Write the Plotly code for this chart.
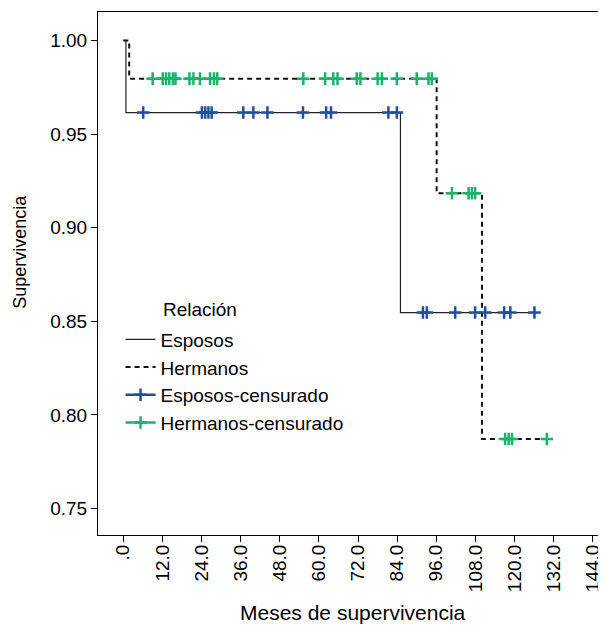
import plotly.graph_objects as go

# Kaplan-Meier step curves (months, survival)
esposos_t = [0, 0.8, 85.0, 126.1]
esposos_s = [1.0, 0.9615, 0.8547, 0.8547]
hermanos_t = [0, 1.8, 96.1, 110.0, 129.9]
hermanos_s = [1.0, 0.9796, 0.9184, 0.7872, 0.7872]

# censored observations
esposos_cens_t = [6.1, 24.1, 25.1, 26.1, 27.1, 36.8, 39.9, 44.2, 55.1, 62.2, 63.7, 81.3, 83.9,
                  91.9, 93.1, 101.8, 107.9, 111.0, 116.8, 118.7, 126.1]
esposos_cens_s = [0.9615] * 13 + [0.8547] * 8
hermanos_cens_t = [9.0, 12.1, 13.1, 14.1, 15.2, 16.0, 20.3, 21.5, 23.5, 26.6, 27.8, 28.8, 55.2,
                   61.9, 64.4, 65.7, 71.6, 72.7, 78.0, 79.3, 83.9, 90.0, 93.6, 94.6,
                   100.8, 105.9, 106.9, 107.9,
                   117.1, 118.2, 119.2, 129.9]
hermanos_cens_s = [0.9796] * 24 + [0.9184] * 4 + [0.7872] * 4

x_ticks = [0, 12, 24, 36, 48, 60, 72, 84, 96, 108, 120, 132, 144]
x_ticktext = [".0", "12.0", "24.0", "36.0", "48.0", "60.0", "72.0", "84.0", "96.0",
              "108.0", "120.0", "132.0", "144.0"]
y_ticks = [0.75, 0.80, 0.85, 0.90, 0.95, 1.00]
y_ticktext = ["0.75", "0.80", "0.85", "0.90", "0.95", "1.00"]

BLUE = "#1f4f9f"
GREEN = "#19b36b"
FONT = "Liberation Sans, Arial, sans-serif"


def isolated(xs, ys):
    ox, oy = [], []
    for a, b in zip(xs, ys):
        ox += [a, None]
        oy += [b, None]
    return ox, oy


fig = go.Figure()
fig.add_trace(go.Scatter(x=esposos_t, y=esposos_s, mode="lines", line_shape="hv",
                         line=dict(color="#222222", width=1.2), name="Esposos"))
fig.add_trace(go.Scatter(x=hermanos_t, y=hermanos_s, mode="lines", line_shape="hv",
                         line=dict(color="#111111", width=2, dash="5px,4px"), name="Hermanos"))
ex, ey = isolated(esposos_cens_t, esposos_cens_s)
fig.add_trace(go.Scatter(x=ex, y=ey, mode="lines+markers", connectgaps=False,
                         line=dict(color=BLUE, width=2.5),
                         marker=dict(symbol="cross-thin", size=9, line=dict(color=BLUE, width=2.5)),
                         name="Esposos-censurado"))
hx, hy = isolated(hermanos_cens_t, hermanos_cens_s)
fig.add_trace(go.Scatter(x=hx, y=hy, mode="lines+markers", connectgaps=False,
                         line=dict(color=GREEN, width=2.5),
                         marker=dict(symbol="cross-thin", size=9, line=dict(color=GREEN, width=2.5)),
                         name="Hermanos-censurado"))

# page body has an 8px margin, so the figure is 8px smaller and margins shifted
fig.update_layout(
    width=598, height=617,
    margin=dict(l=90, r=7, t=4, b=90, autoexpand=False),
    paper_bgcolor="white", plot_bgcolor="white",
    font=dict(family=FONT, size=19, color="black"),
    showlegend=True,
    legend=dict(x=0.045, y=0.41, xanchor="left", yanchor="top",
                bgcolor="rgba(0,0,0,0)", font=dict(size=19), tracegroupgap=0),
    xaxis=dict(range=[-7.77, 145.9], tickvals=x_ticks, ticktext=x_ticktext, tickangle=-90,
               showgrid=False, zeroline=False, showline=True, linecolor="black", linewidth=1,
               mirror=True, ticks="outside", ticklen=6, tickcolor="black", automargin=False,
               ticklabelstandoff=-5, tickfont=dict(size=19)),
    yaxis=dict(range=[0.7359, 1.0152], tickvals=y_ticks, ticktext=y_ticktext,
               showgrid=False, zeroline=False, showline=True, linecolor="black", linewidth=1,
               mirror=True, ticks="outside", ticklen=6, tickcolor="black", automargin=False,
               tickfont=dict(size=19)),
    annotations=[
        dict(text="Relación", xref="paper", yref="paper", x=0.126, y=0.431,
             xanchor="left", yanchor="middle", showarrow=False, font=dict(size=19)),
        dict(text="Meses de supervivencia", xref="paper", yref="paper", x=0.508, y=-0.148,
             xanchor="center", yanchor="middle", showarrow=False, font=dict(size=21)),
        dict(text="Supervivencia", xref="paper", yref="paper", x=-0.1557, y=0.5417,
             xanchor="center", yanchor="middle", textangle=-90, showarrow=False,
             font=dict(size=18)),
    ],
)

fig.write_html("out.html")
